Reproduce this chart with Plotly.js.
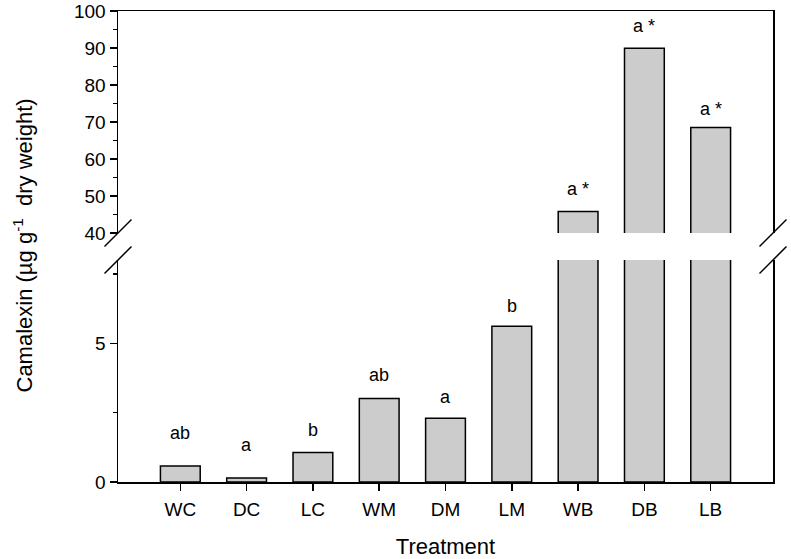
<!DOCTYPE html>
<html>
<head>
<meta charset="utf-8">
<script src="https://cdn.plot.ly/plotly-3.0.1.min.js"></script>
<style>html,body{margin:0;padding:0;background:#fff;}#chart{width:791px;height:559px;}</style>
</head>
<body>
<div id="chart"></div>
<script>
// Data
var categories = ['WC', 'DC', 'LC', 'WM', 'DM', 'LM', 'WB', 'DB', 'LB'];
var camalexin = [0.58, 0.14, 1.06, 3.01, 2.30, 5.61, 45.8, 89.9, 68.5];
var letters = ['ab', 'a', 'b', 'ab', 'a', 'b', 'a *', 'a *', 'a *'];
var letterY = [1.78, 1.34, 1.88, 3.84, 3.06, 6.35, 51.8, 95.9, 73.4];
var lowerRange = [0, 8];
var upperRange = [40, 100];
var lowerTicks = [0, 5];
var upperTicks = [40, 50, 60, 70, 80, 90, 100];

var FONT = 'Arial, "Liberation Sans", Helvetica, sans-serif';
var xIdx = categories.map(function (c, i) { return i; });

var barStyle = {
  type: 'bar',
  x: xIdx,
  y: camalexin,
  width: 0.6,
  marker: { color: '#cccccc', line: { color: '#000000', width: 1.5 } },
  hoverinfo: 'x+y',
  showlegend: false
};
var lower = Object.assign({}, barStyle, { xaxis: 'x', yaxis: 'y' });
var upper = Object.assign({}, barStyle, { xaxis: 'x2', yaxis: 'y2' });

var plotH = 559 - 11 - 77;
var lowDomTop = (482 - 260) / plotH;
var upDomBot = (482 - 233) / plotH;

var annotations = letters.map(function (t, i) {
  var isUpper = letterY[i] > lowerRange[1];
  return {
    x: i, y: letterY[i], xref: 'x', yref: isUpper ? 'y2' : 'y',
    text: t, showarrow: false, xanchor: 'center', yanchor: 'middle',
    font: { family: FONT, size: 18, color: '#000' }
  };
});
annotations.push({
  xref: 'paper', yref: 'paper', x: 0, y: 0.5, xshift: -96, yshift: 1,
  text: 'Camalexin (µg g<sup>-1</sup>  dry weight)', textangle: -90,
  showarrow: false, xanchor: 'center', yanchor: 'middle',
  font: { family: FONT, size: 22, color: '#000' }
});

function slash(xp, yp) {
  return {
    type: 'line', xref: 'paper', yref: 'paper',
    xsizemode: 'pixel', ysizemode: 'pixel', xanchor: xp, yanchor: yp,
    x0: -13.5, x1: 13.5, y0: -13.5, y1: 13.5,
    line: { color: '#000', width: 1.5 }
  };
}
var shapes = [slash(0, upDomBot), slash(0, lowDomTop), slash(1, upDomBot), slash(1, lowDomTop)];

var axisCommon = {
  showline: true, linecolor: '#000', linewidth: 1.5,
  ticks: 'outside', ticklen: 7, tickwidth: 1.5, tickcolor: '#000',
  showgrid: false, zeroline: false,
  tickfont: { family: FONT, size: 19, color: '#000' }
};

var layout = {
  width: 791, height: 559,
  margin: { l: 118, r: 18, t: 11, b: 77 },
  paper_bgcolor: '#fff', plot_bgcolor: '#fff',
  font: { family: FONT, color: '#000' },
  showlegend: false,
  bargap: 0,
  xaxis: Object.assign({}, axisCommon, {
    domain: [0, 1], anchor: 'y', range: [-0.94, 8.94],
    tickmode: 'array', tickvals: xIdx, ticktext: categories,
    ticklabelstandoff: 3,
    title: { text: 'Treatment', font: { family: FONT, size: 22, color: '#000' }, standoff: 27 }
  }),
  xaxis2: {
    domain: [0, 1], anchor: 'y2', matches: 'x', side: 'top',
    showline: true, linecolor: '#000', linewidth: 1.5,
    showticklabels: false, ticks: '', showgrid: false, zeroline: false,
    range: [-0.94, 8.94]
  },
  yaxis: Object.assign({}, axisCommon, {
    domain: [0, lowDomTop], anchor: 'x', range: lowerRange, mirror: true,
    tickmode: 'array', tickvals: lowerTicks,
    minor: { dtick: 2.5, tick0: 0, ticks: 'outside', ticklen: 4, tickwidth: 1.5, tickcolor: '#000' }
  }),
  yaxis2: Object.assign({}, axisCommon, {
    domain: [upDomBot, 1], anchor: 'x2', range: upperRange, mirror: true,
    tickmode: 'array', tickvals: upperTicks,
    minor: { dtick: 5, tick0: 0, ticks: 'outside', ticklen: 4, tickwidth: 1.5, tickcolor: '#000' }
  }),
  annotations: annotations,
  shapes: shapes
};

Plotly.newPlot('chart', [lower, upper], layout, { staticPlot: true, displayModeBar: false });
</script>
</body>
</html>
